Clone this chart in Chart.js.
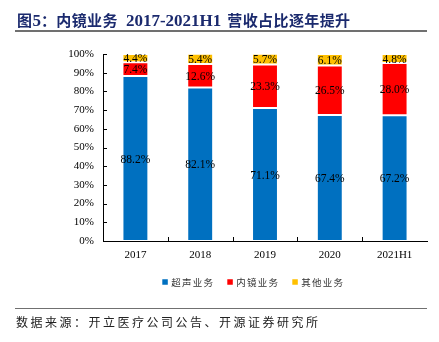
<!DOCTYPE html>
<html>
<head>
<meta charset="utf-8">
<script src="https://cdn.jsdelivr.net/npm/chart.js@4.4.1/dist/chart.umd.min.js"></script>
<style>
  html, body { margin: 0; padding: 0; background: #fff; }
  body { width: 439px; height: 342px; position: relative; overflow: hidden; }
  #chartBox { position: absolute; left: 0; top: 0; width: 439px; height: 342px; }
  #title { position: absolute; left: 17px; top: 9px; white-space: nowrap; color: #1b2a6e; font-weight: bold; line-height: 22px; }
  #title .cjk { font-family: "Noto Sans CJK SC"; font-size: 15px; letter-spacing: 0.4px; }
  #title .lat { font-family: "Liberation Serif"; font-size: 17px; }
  #topLine { position: absolute; left: 15px; top: 30px; width: 412px; height: 1.5px; background: #707070; }
  #bottomLine { position: absolute; left: 15px; top: 307.5px; width: 412px; height: 1.5px; background: #707070; }
  #source { position: absolute; left: 16px; top: 314px; white-space: nowrap; font-family: "Noto Sans CJK SC"; font-size: 12px; letter-spacing: 2.5px; color: #222; line-height: 16px; }
</style>
</head>
<body>
<div id="chartBox"><canvas id="c" width="439" height="342"></canvas></div>
<div id="title"><span class="cjk">图</span><span class="lat">5</span><span class="cjk">：内镜业务</span><span class="lat" style="margin-left:8px">2017-2021H1</span><span class="cjk" style="margin-left:6px">营收占比逐年提升</span></div>
<div id="topLine"></div>
<div id="bottomLine"></div>
<div id="source">数据来源：开立医疗公司公告、开源证券研究所</div>
<script>
// 数据
const years = ['2017', '2018', '2019', '2020', '2021H1'];
const ultrasound = [88.2, 82.1, 71.1, 67.4, 67.2];   // 超声业务
const endoscope = [7.4, 12.6, 23.3, 26.5, 28.0];     // 内镜业务
const others = [4.4, 5.4, 5.7, 6.1, 4.8];            // 其他业务
const seriesNames = ['超声业务', '内镜业务', '其他业务'];
const yTicks = [0, 10, 20, 30, 40, 50, 60, 70, 80, 90, 100];

const colors = ['#0070C0', '#FF0000', '#FFC000'];
const serif = '"Liberation Serif", "Times New Roman", serif';

// 柱内数值标签
const valueLabels = {
    id: 'valueLabels',
    afterDatasetsDraw(chart) {
        const ctx = chart.ctx;
        ctx.save();
        ctx.font = '11.5px ' + serif;
        ctx.fillStyle = '#000';
        ctx.textAlign = 'center';
        ctx.textBaseline = 'middle';
        chart.data.datasets.forEach((ds, i) => {
            chart.getDatasetMeta(i).data.forEach((bar, j) => {
                const y = (bar.y + bar.base) / 2;
                ctx.fillText(ds.data[j].toFixed(1) + '%', bar.x, y + 1);
            });
        });
        ctx.restore();
    }
};

// 坐标轴向内的刻度线
const innerTicks = {
    id: 'innerTicks',
    afterDraw(chart) {
        const ctx = chart.ctx;
        const x = chart.scales.x, y = chart.scales.y;
        ctx.save();
        ctx.strokeStyle = '#000';
        ctx.lineWidth = 1;
        ctx.beginPath();
        yTicks.forEach(v => {
            const py = Math.round(y.getPixelForValue(v)) + 0.5;
            ctx.moveTo(x.left, py);
            ctx.lineTo(x.left + 4, py);
        });
        for (let k = 1; k < years.length; k++) {
            const px = Math.round((x.getPixelForValue(k - 1) + x.getPixelForValue(k)) / 2) + 0.5;
            ctx.moveTo(px, y.bottom);
            ctx.lineTo(px, y.bottom - 4);
        }
        ctx.stroke();
        ctx.restore();
    }
};

// 图例
const customLegend = {
    id: 'customLegend',
    afterDraw(chart) {
        const ctx = chart.ctx;
        ctx.save();
        ctx.font = '9.5px "Noto Sans CJK SC"';
        ctx.letterSpacing = '1.25px';
        ctx.textBaseline = 'middle';
        ctx.fillStyle = '#333';
        let lx = 162.3;
        const ly = 282;
        chart.data.datasets.forEach((ds, i) => {
            ctx.fillStyle = ds.backgroundColor;
            ctx.fillRect(lx, ly - 2.75, 5.5, 5.5);
            ctx.fillStyle = '#333';
            ctx.fillText(ds.label, lx + 9, ly);
            lx += 9 + ctx.measureText(ds.label).width + 13;
        });
        ctx.restore();
    }
};

new Chart(document.getElementById('c'), {
    type: 'bar',
    data: {
        labels: years,
        datasets: [
            { label: seriesNames[0], data: ultrasound, backgroundColor: colors[0] },
            { label: seriesNames[1], data: endoscope, backgroundColor: colors[1] },
            { label: seriesNames[2], data: others, backgroundColor: colors[2] }
        ]
    },
    options: {
        responsive: false,
        animation: false,
        layout: { padding: { left: 0, right: 12, top: 54, bottom: 0 } },
        datasets: {
            bar: {
                categoryPercentage: 1,
                barPercentage: 0.4,
                borderWidth: 1,
                borderColor: 'rgba(255,255,255,0.55)',
                borderSkipped: false
            }
        },
        scales: {
            x: {
                stacked: true,
                grid: { display: false, drawTicks: false },
                border: { display: true, color: '#000', width: 1 },
                ticks: { color: '#000', font: { family: serif, size: 11 }, padding: 8 },
                afterFit(scale) { scale.height = 101; }
            },
            y: {
                stacked: true,
                min: 0,
                max: 100,
                grid: { display: false, drawTicks: false },
                border: { display: true, color: '#000', width: 1 },
                ticks: {
                    stepSize: 10,
                    color: '#000',
                    padding: 9,
                    font: { family: serif, size: 11 },
                    callback: v => v + '%'
                },
                afterFit(scale) { scale.width = 103; }
            }
        },
        plugins: {
            legend: { display: false },
            tooltip: { enabled: false }
        }
    },
    plugins: [valueLabels, innerTicks, customLegend]
});
</script>
</body>
</html>
